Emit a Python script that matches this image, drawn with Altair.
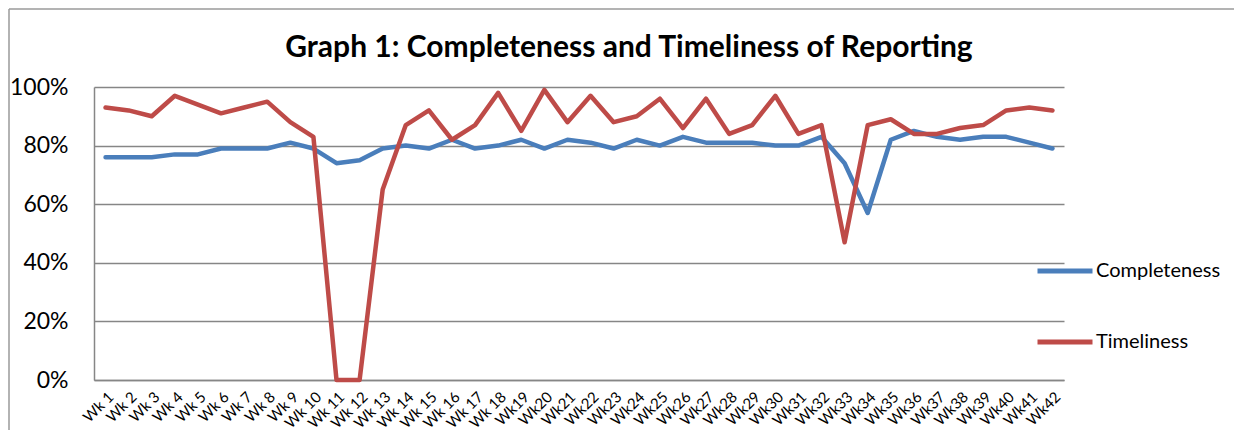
import altair as alt
import pandas as pd

weeks = ["Wk 1", "Wk 2", "Wk 3", "Wk 4", "Wk 5", "Wk 6", "Wk 7", "Wk 8", "Wk 9", "Wk 10",
         "Wk 11", "Wk 12", "Wk 13", "Wk 14", "Wk 15", "Wk 16", "Wk 17", "Wk 18",
         "Wk19", "Wk20", "Wk21", "Wk22", "Wk23", "Wk24", "Wk25", "Wk26", "Wk27", "Wk28",
         "Wk29", "Wk30", "Wk31", "Wk32", "Wk33", "Wk34", "Wk35", "Wk36", "Wk37", "Wk38",
         "Wk39", "Wk40", "Wk41", "Wk42"]

completeness = [76, 76, 76, 77, 77, 79, 79, 79, 81, 79,
                74, 75, 79, 80, 79, 82, 79, 80, 82, 79,
                82, 81, 79, 82, 80, 83, 81, 81, 81, 80,
                80, 83, 74, 57, 82, 85, 83, 82, 83, 83,
                81, 79]

timeliness = [93, 92, 90, 97, 94, 91, 93, 95, 88, 83,
              0, 0, 65, 87, 92, 82, 87, 98, 85, 99,
              88, 97, 88, 90, 96, 86, 96, 84, 87, 97,
              84, 87, 47, 87, 89, 84, 84, 86, 87, 92,
              93, 92]

series_names = ["Completeness", "Timeliness"]
series_colors = ["#4A7EBB", "#BE4B48"]

rows = []
for i, w in enumerate(weeks):
    rows.append({"week": w, "series": series_names[0], "value": completeness[i] / 100})
    rows.append({"week": w, "series": series_names[1], "value": timeliness[i] / 100})
df = pd.DataFrame(rows)

FONT = "Lato"
W, H = 970, 293

lines = alt.Chart(df).mark_line(strokeWidth=4.5, strokeCap="round", strokeJoin="round").encode(
    x=alt.X("week:O", sort=weeks, title=None,
            axis=alt.Axis(labelAngle=-45, labelFontSize=15, labelFont=FONT, labelColor="#000000",
                          ticks=False, domain=True, domainColor="#868686", domainWidth=1.5,
                          labelPadding=9, grid=False)),
    y=alt.Y("value:Q", title=None,
            scale=alt.Scale(domain=[0, 1], nice=False),
            axis=alt.Axis(values=[0, 0.2, 0.4, 0.6, 0.8, 1.0], format=".0%",
                          labelFontSize=23, labelFont=FONT, labelColor="#000000",
                          labelPadding=26, ticks=False, domain=True, domainColor="#868686",
                          domainWidth=1.5, grid=True, gridColor="#868686", gridWidth=1.5)),
    color=alt.Color("series:N", sort=series_names,
                    scale=alt.Scale(domain=series_names, range=series_colors),
                    legend=alt.Legend(title=None, orient="none", legendX=941, legendY=154,
                                      symbolType="stroke", symbolSize=3025, symbolStrokeWidth=5,
                                      labelFontSize=20, labelFont=FONT, labelColor="#000000",
                                      labelOffset=1, rowPadding=31, padding=0)),
)

frame = alt.Chart(alt.Data(values=[{"a": 1}])).mark_rule(color="#9a9a9a", strokeWidth=1.5).encode(
    x=alt.value(-85), x2=alt.value(1160), y=alt.value(-78)
)
frame_left = alt.Chart(alt.Data(values=[{"a": 1}])).mark_rule(color="#9a9a9a", strokeWidth=1.5).encode(
    x=alt.value(-85), y=alt.value(-78), y2=alt.value(360)
)

chart = alt.layer(frame, frame_left, lines).properties(
    width=W, height=H,
    autosize=alt.AutoSizeParams(type="none"),
    padding={"left": 86, "top": 79, "right": 170, "bottom": 50},
    title=alt.TitleParams("Graph 1: Completeness and Timeliness of Reporting",
                          font=FONT, fontSize=30, fontWeight="bold", color="#000000",
                          anchor="middle", dx=50, offset=-55),
).configure_view(stroke=None)

chart.save("out.html", embed_options={"renderer": "svg", "actions": False})
